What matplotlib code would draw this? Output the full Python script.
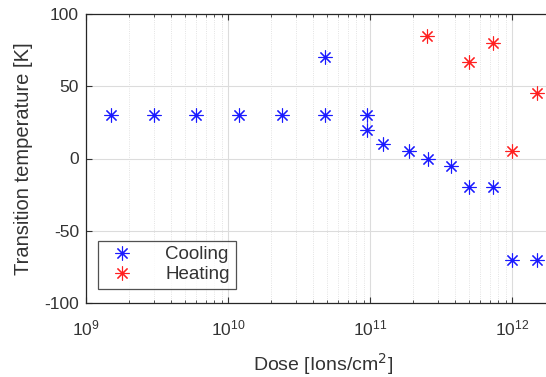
import matplotlib
matplotlib.use("Agg")
import matplotlib.pyplot as plt
from matplotlib.ticker import LogLocator, NullFormatter

plt.rcParams['font.family'] = ['Liberation Sans', 'DejaVu Sans']
plt.rcParams['axes.unicode_minus'] = False

cool_dose = [1.5e9, 3e9, 6e9, 1.2e10, 2.4e10, 4.8e10, 4.8e10, 9.5e10, 9.5e10,
             1.23e11, 1.87e11, 2.55e11, 3.7e11, 5e11, 7.4e11, 1e12, 1.5e12]
cool_temp = [30, 30, 30, 30, 30, 30, 70, 30, 20, 10, 5, 0, -5, -20, -20, -70, -70]
heat_dose = [2.5e11, 5e11, 7.4e11, 1e12, 1.5e12]
heat_temp = [85, 67, 80, 5, 45]
y_ticks = [-100, -50, 0, 50, 100]

W, H = 546, 377
fig = plt.figure(figsize=(W/100, H/100), dpi=100)
left, right, top, bottom = 86, 560, 14, 303
ax = fig.add_axes([left/W, (H-bottom)/H, (right-left)/W, (bottom-top)/H])

star = (8, 2, 0)
ax.plot(cool_dose, cool_temp, linestyle='none', marker=star, color='#1a1aff',
        ms=10, mew=0.8, label='Cooling')
ax.plot(heat_dose, heat_temp, linestyle='none', marker=star, color='#ff2020',
        ms=10, mew=0.8, label='Heating')

ax.set_xscale('log')
ax.set_xlim(1e9, 10**(9 + (right-left)/142))
ax.set_ylim(-100, 100)
ax.set_yticks(y_ticks)
ax.xaxis.set_major_locator(LogLocator(base=10, numticks=10))
ax.xaxis.set_minor_locator(LogLocator(base=10, subs=range(2, 10), numticks=20))
ax.xaxis.set_minor_formatter(NullFormatter())

ax.grid(True, which='major', color='#dcdcdc', linewidth=0.8)
ax.grid(True, which='minor', axis='x', color='#dadada', linewidth=0.6, linestyle=':')
ax.set_axisbelow(True)

for s in ax.spines.values():
    s.set_color('#262626')
    s.set_linewidth(0.9)
ax.tick_params(which='both', direction='in', top=True, right=False,
               colors='#333333', labelsize=12.5)
ax.tick_params(which='major', length=4)
ax.tick_params(which='minor', length=2)
ax.tick_params(axis='x', pad=11)
ax.tick_params(axis='y', pad=5)

ax.set_xlabel('Dose [Ions/cm$^2$]', fontsize=14, color='#333333', labelpad=9)
ax.set_ylabel('Transition temperature [K]', fontsize=14.5, color='#333333', labelpad=8)

leg = ax.legend(loc='lower left', bbox_to_anchor=((98-left)/(right-left), (bottom-289)/(bottom-top)),
                fontsize=13.5, frameon=True, fancybox=False, edgecolor='#262626',
                borderpad=0.3, borderaxespad=0, handletextpad=1.3, handlelength=2.0,
                labelspacing=0.15, markerfirst=True, labelcolor='#333333')
leg.get_frame().set_linewidth(0.9)

fig.savefig('out.png', dpi=100)
